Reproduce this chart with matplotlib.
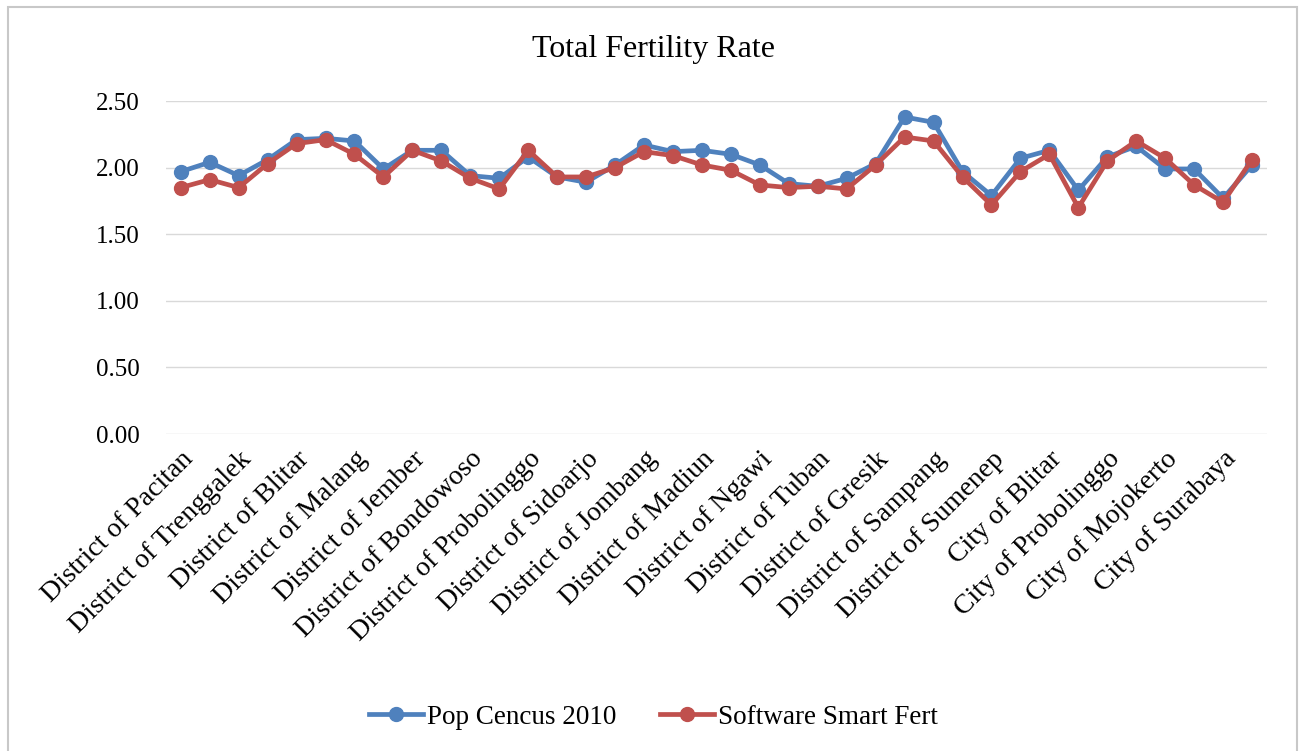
import numpy as np
import matplotlib.pyplot as plt
from matplotlib.patches import Rectangle

# Regencies / cities of East Java (38), labels shown on every other one
regions = [
    'District of Pacitan', 'District of Ponorogo', 'District of Trenggalek', 'District of Tulungagung',
    'District of Blitar', 'District of Kediri', 'District of Malang', 'District of Lumajang',
    'District of Jember', 'District of Banyuwangi', 'District of Bondowoso', 'District of Situbondo',
    'District of Probolinggo', 'District of Pasuruan', 'District of Sidoarjo', 'District of Mojokerto',
    'District of Jombang', 'District of Nganjuk', 'District of Madiun', 'District of Magetan',
    'District of Ngawi', 'District of Bojonegoro', 'District of Tuban', 'District of Lamongan',
    'District of Gresik', 'District of Bangkalan', 'District of Sampang', 'District of Pamekasan',
    'District of Sumenep', 'City of Kediri', 'City of Blitar', 'City of Malang',
    'City of Probolinggo', 'City of Pasuruan', 'City of Mojokerto', 'City of Madiun',
    'City of Surabaya', 'City of Batu',
]

pop_census = [1.97, 2.04, 1.94, 2.06, 2.21, 2.22, 2.20, 1.99, 2.13, 2.13,
              1.94, 1.92, 2.08, 1.93, 1.89, 2.02, 2.17, 2.12, 2.13, 2.10,
              2.02, 1.88, 1.86, 1.92, 2.03, 2.38, 2.34, 1.97, 1.79, 2.07,
              2.13, 1.83, 2.08, 2.16, 1.99, 1.99, 1.77, 2.02]

smart_fert = [1.85, 1.91, 1.85, 2.03, 2.18, 2.21, 2.10, 1.93, 2.13, 2.05,
              1.92, 1.84, 2.13, 1.93, 1.93, 2.00, 2.12, 2.09, 2.02, 1.98,
              1.87, 1.85, 1.86, 1.84, 2.02, 2.23, 2.20, 1.93, 1.72, 1.97,
              2.10, 1.70, 2.05, 2.20, 2.07, 1.87, 1.74, 2.06]

y_ticks = [0.0, 0.5, 1.0, 1.5, 2.0, 2.5]

plt.rcParams['font.family'] = ['Liberation Serif', 'DejaVu Serif']

fig = plt.figure(figsize=(12.99, 7.51), dpi=100)
ax = fig.add_axes([0.128, 0.422, 0.847, 0.4435])

x = np.arange(len(regions))
blue = '#4F81BD'
red = '#C0504D'
ax.plot(x, pop_census, color=blue, lw=3.4, marker='o', ms=10,
        label='Pop Cencus 2010', zorder=3)
ax.plot(x, smart_fert, color=red, lw=3.4, marker='o', ms=10,
        label='Software Smart Fert', zorder=4)

ax.set_xlim(-0.5, len(regions) - 0.5)
ax.set_ylim(0, 2.5)
ax.set_yticks(y_ticks)
ax.set_yticklabels(['%.2f' % v for v in y_ticks], fontsize=18)
ax.yaxis.grid(True, color='#D9D9D9', lw=1)
ax.set_axisbelow(True)

ax.set_xticks(x[::2])
ax.set_xticklabels(regions[::2], rotation=45, ha='right', rotation_mode='anchor', fontsize=20)
ax.tick_params(axis='both', length=0)
ax.tick_params(axis='x', pad=9)
ax.tick_params(axis='y', pad=19)
for s in ax.spines.values():
    s.set_visible(False)

fig.text(0.503, 0.934, 'Total Fertility Rate', ha='center', va='center', fontsize=23)

fig.legend(loc='center', bbox_to_anchor=(0.503, 0.045), ncol=2, frameon=False,
           fontsize=19.5, handlelength=2.0, columnspacing=1.6, handletextpad=0.15)

fig.patches.append(Rectangle((0.0062, -0.01), 0.9923, 1.0007, transform=fig.transFigure,
                             fill=False, edgecolor='#C8C8C8', lw=1.5))

fig.savefig('out.png', dpi=100)
